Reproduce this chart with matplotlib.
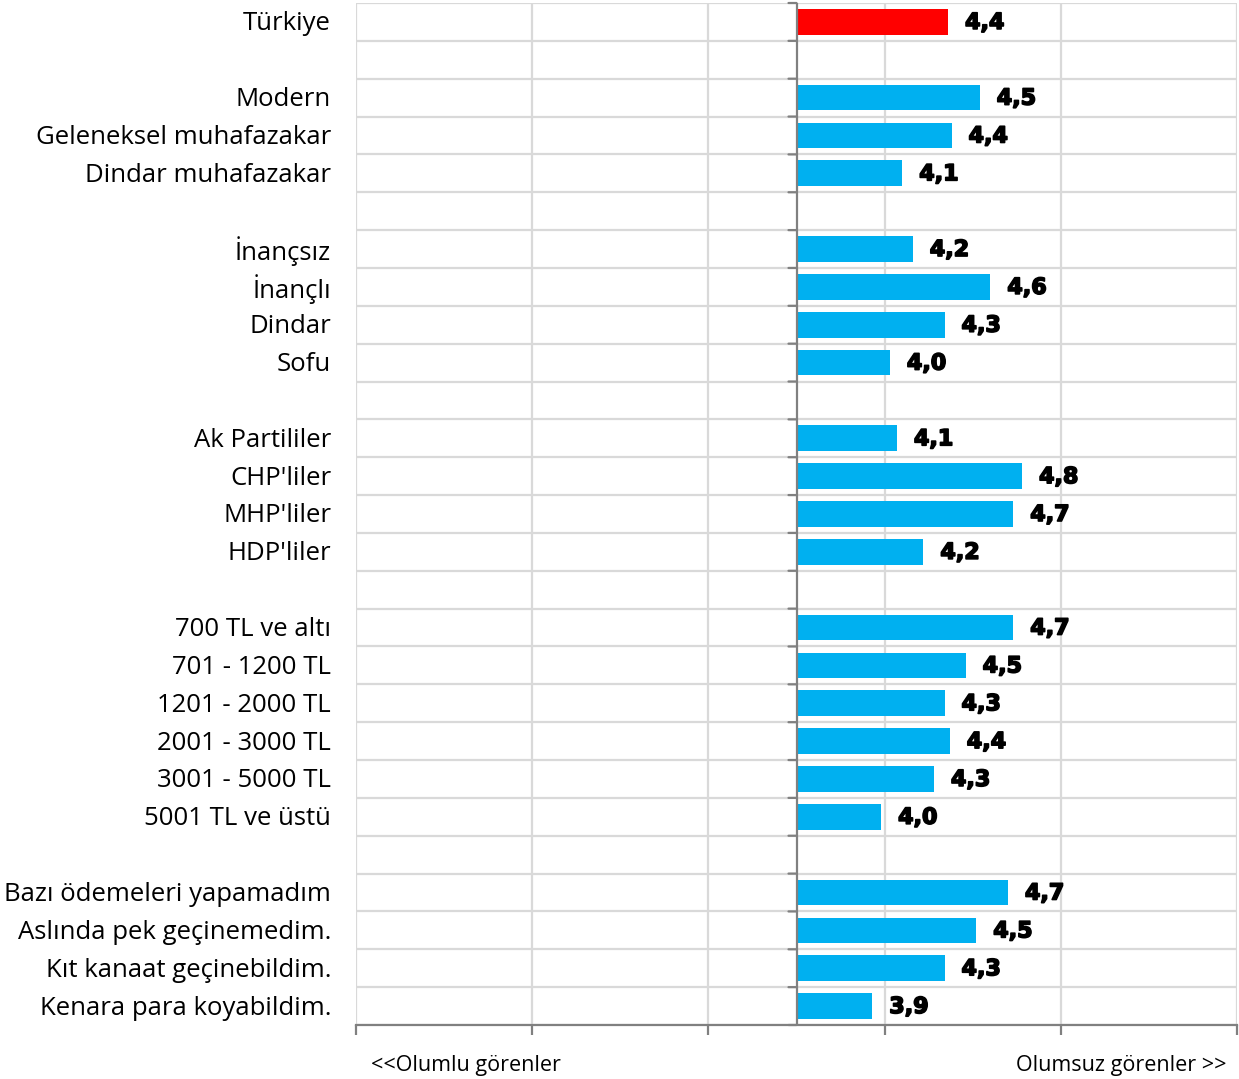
import numpy as np
import matplotlib.pyplot as plt
import matplotlib.patheffects as pe
from matplotlib.transforms import blended_transform_factory, offset_copy

# Categories, top to bottom ('' = empty spacer row)
categories = ['Türkiye', '',
              'Modern', 'Geleneksel muhafazakar', 'Dindar muhafazakar', '',
              'İnançsız', 'İnançlı', 'Dindar', 'Sofu', '',
              'Ak Partililer', "CHP'liler", "MHP'liler", "HDP'liler", '',
              '700 TL ve altı', '701 - 1200 TL', '1201 - 2000 TL', '2001 - 3000 TL',
              '3001 - 5000 TL', '5001 TL ve üstü', '',
              'Bazı ödemeleri yapamadım', 'Aslında pek geçinemedim.',
              'Kıt kanaat geçinebildim.', 'Kenara para koyabildim.']

values = [4.36, None,
          4.54, 4.38, 4.10, None,
          4.16, 4.60, 4.34, 4.03, None,
          4.07, 4.78, 4.73, 4.22, None,
          4.73, 4.46, 4.34, 4.37, 4.28, 3.98, None,
          4.70, 4.52, 4.34, 3.93]

# scale 1..6, bars drawn from the neutral midpoint
scale_min, scale_max = 1, 6
midpoint = 3.5

left_note = '<<Olumlu görenler'
right_note = 'Olumsuz görenler >>'

blue = '#00B0F0'
red = '#FF0000'
grid_c = '#D9D9D9'
axis_c = '#808080'

fig = plt.figure(figsize=(12.39, 10.79), dpi=100)
ax = fig.add_axes([356 / 1239, 1 - 1025 / 1079, 881 / 1239, 1022 / 1079])

n = len(categories)
y = np.arange(n)
lab_tr = offset_copy(ax.transData, fig=fig, x=17, y=-1, units='dots')
heavy = [pe.withStroke(linewidth=1.2, foreground='black')]
for i, v in enumerate(values):
    if v is None:
        continue
    color = red if i == 0 else blue
    ax.barh(y[i], v - midpoint, left=midpoint, height=0.68, color=color,
            edgecolor='none', zorder=3)
    ax.text(v, y[i], f'{v:.1f}'.replace('.', ','), transform=lab_tr,
            ha='left', va='center', fontsize=16, fontfamily='DejaVu Sans',
            fontweight='bold', color='black', zorder=4, path_effects=heavy)

ax.set_xlim(scale_min, scale_max)
ax.set_ylim(n - 0.5, -0.5)

# grid: vertical at scale points, horizontal between rows
for xv in range(scale_min, scale_max + 1):
    ax.axvline(xv, color=grid_c, lw=1.6, zorder=1)
for yb in np.arange(-0.5, n, 1.0):
    ax.axhline(yb, color=grid_c, lw=1.6, zorder=1)

for s in ['top', 'right', 'left']:
    ax.spines[s].set_visible(False)
ax.spines['bottom'].set_color(axis_c)
ax.spines['bottom'].set_linewidth(1.6)
ax.spines['bottom'].set_zorder(5)
ax.set_xticks(range(scale_min, scale_max + 1))
ax.set_xticklabels([])
ax.tick_params(axis='x', direction='out', length=7, width=1.6, color=axis_c)
ax.set_yticks([])

# category axis crossing at the midpoint, with tick marks between rows
ax.axvline(midpoint, color=axis_c, lw=1.6, zorder=5)
for yb in np.arange(-0.5, n, 1.0):
    ax.annotate('', xy=(midpoint, yb), xytext=(-8, 0), textcoords='offset pixels',
                arrowprops=dict(arrowstyle='-', color=axis_c, lw=1.6,
                                shrinkA=0, shrinkB=0), zorder=5)

# category labels
tr = offset_copy(blended_transform_factory(ax.transAxes, ax.transData),
                 fig=fig, x=0, y=-2, units='dots')
for i, c in enumerate(categories):
    if c:
        ax.text(-25 / 881, y[i], c, transform=tr, ha='right', va='center',
                fontsize=18.5, fontfamily='Open Sans', color='black')

fig.text(371 / 1239, 1 - 1066 / 1079, left_note, ha='left', va='center',
         fontsize=15.5, fontfamily='Open Sans', color='black')
fig.text(1227 / 1239, 1 - 1066 / 1079, right_note, ha='right', va='center',
         fontsize=15.5, fontfamily='Open Sans', color='black')

fig.savefig('out.png', dpi=100)
